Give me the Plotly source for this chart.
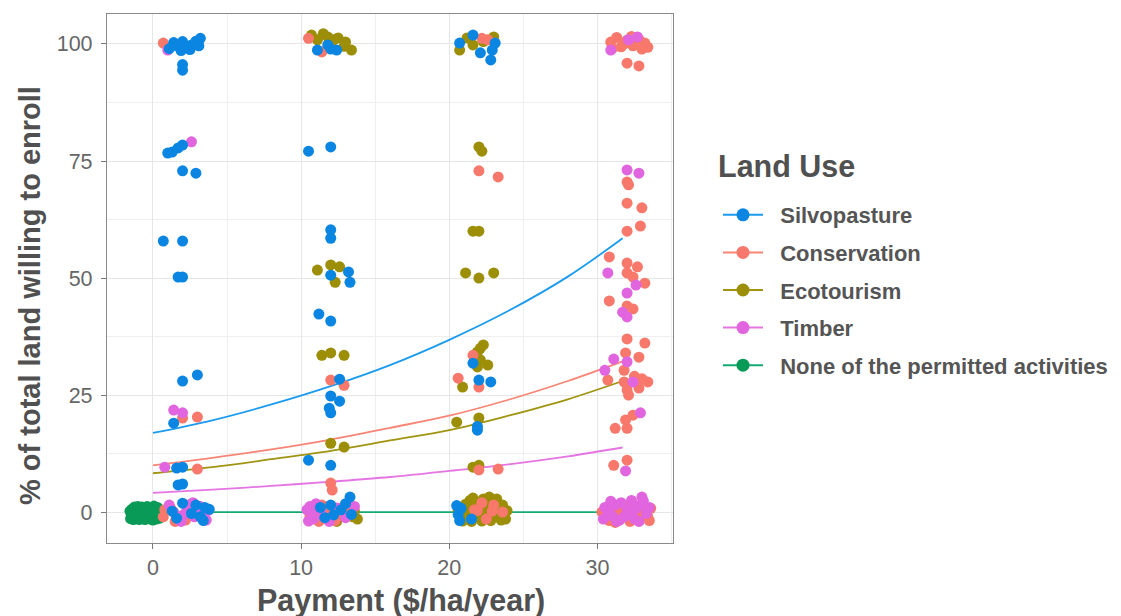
import plotly.graph_objects as go

# ---------------- data ----------------
land_uses = ["Silvopasture", "Conservation", "Ecotourism", "Timber", "None of the permitted activities"]
colors = ["#0A86E2", "#F8786B", "#9C8E06", "#E065DE", "#0A9A57"]
line_colors = ["#1A9BEE", "#F88575", "#A09410", "#E575E2", "#14AA72"]

# jittered payment positions and % enrolled for each land use
silvo_x = [1.1, 1.4, 1.7, 2.0, 2.3, 2.6, 2.9, 3.2, 3.1, 1.9, 2.5, 2.0, 2.0,
           1.0, 1.3, 1.7, 2.0, 2.0, 2.9, 0.7, 2.0, 1.7, 2.0, 2.0, 3.0, 1.4,
           1.6, 2.0, 1.7, 2.0, 2.0, 3.2, 3.5, 2.6, 3.4, 1.3, 2.9, 1.6, 3.8,
           11.1, 11.8, 12.4, 12.0, 10.5, 12.0, 12.0, 12.0, 12.0, 13.2, 13.3,
           11.2, 12.0, 12.6, 12.0, 12.6, 11.9, 12.0, 10.5, 12.0, 13.3,
           12.0, 12.7, 13.4, 11.6, 13.0, 12.2, 11.3,
           20.7, 21.6, 22.1, 22.8, 23.1, 22.9, 21.6, 22.0, 22.8, 21.9, 21.9,
           20.6, 20.8, 21.5, 20.5, 20.7]
silvo_y = [99.0, 100.3, 99.5, 100.5, 99.2, 99.8, 100.6, 101.2, 99.6, 98.6, 98.8, 94.4, 95.6,
           76.7, 76.9, 77.8, 78.4, 72.9, 72.4, 57.9, 57.9, 50.2, 50.2, 28.0, 29.3, 19.0,
           9.4, 9.6, 5.8, 6.0, 1.9, -1.0, 1.0, -0.3, -1.8, 0.2, 1.5, -1.3, 0.6,
           98.7, 99.8, 98.7, 98.9, 77.1, 78.0, 60.3, 58.5, 50.6, 51.3, 49.1,
           42.3, 40.8, 28.4, 24.8, 23.7, 22.2, 21.2, 11.1, 10.0, 3.2,
           1.5, 0.5, -0.5, -1.2, 1.8, -0.6, 1.0,
           100.2, 101.9, 98.1, 96.6, 100.2, 98.7, 31.8, 28.2, 27.8, 17.5, 18.3,
           -0.5, 0.8, -1.5, 1.4, -1.8]

cons_x = [0.7, 2.0, 3.0, 3.0, 0.7, 0.8, 2.2, 1.5, 2.9, 1.2, 3.3,
          10.5, 11.4, 12.0, 12.9, 12.0, 12.1, 10.6, 11.2, 12.3, 12.8, 11.8,
          11.4, 12.5, 13.3, 10.9,
          22.6, 22.2, 22.0, 23.3, 21.6, 20.6, 22.0, 22.0, 23.3, 21.7, 22.5, 23.0, 22.2,
          22.9, 21.9, 23.6,
          30.9, 31.3, 31.6, 32.0, 32.4, 32.8, 33.2, 33.4, 31.0, 32.3, 31.8, 33.0,
          32.0, 32.8, 32.0, 32.1, 32.0, 33.0, 32.0, 32.9,
          30.8, 32.0, 32.7, 32.0, 32.4, 33.2, 30.8, 32.4, 32.0,
          32.0, 33.2, 31.9, 32.8, 30.7, 31.8, 33.4, 32.0, 32.8, 32.1, 31.8, 33.0, 32.5,
          32.4, 31.9, 31.2, 32.0, 31.1, 32.0,
          30.3, 30.8, 31.5, 32.2, 32.7, 33.4, 33.6, 31.9, 31.2,
          30.6, 31.4, 32.1, 32.9, 33.5, 31.8, 33.2]
cons_y = [100.2, 20.1, 20.3, 9.2, -1.0, 0.5, -1.7, -2.0, 0.2, 0.8, -0.2,
          101.2, 98.3, 28.2, 27.1, 6.2, 4.7, -0.8, -2.0, -1.8, 1.0, 0.3,
          1.5, -0.3, 0.4, -0.5,
          100.9, 101.2, 72.9, 71.6, 33.5, 28.6, 26.7, 9.0, 9.2, 0.5, -1.5, 1.5, 2.0,
          0.2, 0.3, 0.0,
          100.4, 101.4, 99.4, 100.8, 99.6, 101.0, 100.2, 99.3, 99.0, 101.6, 100.0, 98.9,
          95.9, 95.3, 70.5, 69.9, 66.0, 65.0, 60.0, 61.1,
          54.5, 53.2, 52.4, 51.1, 50.2, 48.9, 45.1, 43.4, 44.0,
          37.0, 36.1, 34.0, 33.1, 28.2, 30.3, 27.8, 26.1, 26.5, 25.0, 27.8, 28.5, 29.0,
          20.7, 19.7, 17.9, 17.9, 10.0, 11.1,
          0.0, -1.8, 1.0, -2.0, 0.5, -1.0, 0.8, -0.5, -2.2,
          -0.5, 0.0, 1.6, -0.8, -1.8, 1.3, 0.3]

eco_x = [10.7, 11.8, 12.5, 13.0, 13.4, 12.2, 11.1, 11.5, 12.9,
         11.1, 12.0, 12.6, 12.3, 11.4, 12.0, 12.9, 12.0, 12.9,
         12.1, 12.7, 13.6, 13.2, 11.5, 13.8, 12.4, 13.1, 11.9, 13.5,
         21.2, 21.6, 23.0, 20.7, 22.3, 22.0, 22.2, 21.6, 22.0,
         21.1, 22.0, 23.0, 22.3, 22.1, 21.9, 21.9, 22.6, 22.1,
         20.9, 20.5, 22.0, 21.6, 22.0,
         20.8, 21.2, 21.5, 21.8, 22.0, 22.3, 22.5, 22.8, 23.0, 23.3, 23.6, 23.8,
         22.7, 21.4, 20.6, 23.9, 22.1, 21.0,
         21.1, 21.7, 22.2, 22.9, 23.5, 20.9, 23.2, 22.4, 21.6]
eco_y = [101.9, 101.5, 101.3, 100.4, 98.7, 100.9, 100.9, 102.2, 99.5,
         51.7, 52.8, 52.4, 49.1, 33.5, 34.0, 33.5, 14.7, 13.9,
         -1.5, -0.8, 0.2, 1.5, 0.0, -1.5, -2.0, 0.0, 1.2, -1.0,
         101.3, 99.8, 101.5, 98.7, 100.5, 78.0, 77.1, 60.0, 60.0,
         51.1, 50.0, 51.1, 35.7, 35.0, 34.2, 31.0, 31.4, 32.5,
         26.7, 19.2, 20.1, 9.6, 10.0,
         -1.5, 0.5, -2.0, 1.8, -0.8, 2.8, 0.2, -1.8, 1.0, -0.5, 1.5, -1.5,
         3.2, 2.5, 0.3, 0.3, 1.3, -0.2,
         1.7, -0.5, -1.9, 2.2, -1.7, -1.9, 2.8, 1.0, 3.0]

timber_x = [1.0, 2.6, 1.4, 2.0, 0.8,
            1.6, 2.3, 2.8, 3.2, 3.6, 1.1, 1.9, 3.7, 2.5, 1.4, 2.1, 3.0, 2.7,
            10.4, 10.8, 10.6, 11.3, 11.9, 13.6, 10.7, 11.0, 11.5, 12.4, 13.0, 10.5,
            30.9, 32.1, 32.7, 32.0, 32.8,
            30.7, 32.6, 32.0, 31.7, 32.0, 31.1, 32.0, 30.5, 32.4, 32.9, 31.9, 33.0,
            30.5, 31.0, 31.6, 32.0, 32.5, 32.9, 33.3, 31.3, 32.3, 30.4,
            30.7, 31.2, 31.8, 32.3, 32.8, 33.5, 31.5, 30.9, 32.6, 33.1]
timber_y = [98.7, 79.1, 21.8, 21.2, 9.6,
            -1.0, 0.4, -1.0, 1.2, -1.7, 1.5, -2.0, 0.3, 1.6, 0.0, -0.5, 0.0, 2.0,
            0.5, -1.5, 1.2, 0.3, -2.0, 1.2, 0.0, 1.8, -1.0, 0.9, -1.2, -1.9,
            98.7, 100.9, 101.5, 73.1, 72.4,
            51.1, 48.5, 46.8, 42.7, 41.7, 32.7, 32.1, 30.3, 27.8, 21.2, 8.8, 3.2,
            1.0, -0.8, 2.0, 0.5, -1.5, 1.5, -0.3, -2.0, 2.5, -1.5,
            0.2, 1.5, -1.0, -0.2, -2.0, 1.0, -1.7, 2.3, 0.8, 2.4]

none_x = [-1.51, -1.47, -1.43, -1.24, -1.16, -1.09, -0.93, -0.85, -0.78, -0.62, -0.54, -0.39,
          -0.31, -0.16, -0.08, 0.0, 0.15, 0.23, 0.31, 0.38, 0.5, -1.32, -0.70, -1.01, -0.23,
          0.07, 0.46, -1.55, -0.47, 0.23, -1.36, -1.05, -0.74, -0.43, -0.12, 0.19,
          0.42, -1.24, -0.54, 0.0, -0.85, -0.08]
none_y = [-1.4, -0.4, 0.6, 1.1, -0.9, 0.1, -1.6, 0.8, -0.5, 0.4, -1.3, 1.2,
          -0.2, -1.5, 0.7, -0.8, 0.3, -1.5, 1.0, -0.5, 0.5, -1.6, -1.0, 1.2, 0.3,
          1.3, -1.3, 0.2, -0.7, -0.1, 0.0, -0.6, 1.1, 0.1, -0.6, 0.8,
          0.0, -1.2, -1.6, -1.7, 0.0, 0.2]

# fitted curves at these payments
fit_x = [0, 4, 8, 12, 16, 20, 24, 28, 31.7]
fit_silvo = [16.9, 19.6, 23.0, 26.9, 31.4, 36.8, 43.0, 50.3, 58.5]
fit_cons = [10.0, 11.6, 13.4, 15.5, 18.0, 20.6, 24.0, 28.0, 32.2]
fit_eco = [8.3, 9.6, 11.3, 13.1, 15.3, 17.5, 20.6, 24.1, 28.0]
fit_timber = [4.1, 4.8, 5.6, 6.5, 7.5, 8.8, 10.2, 11.9, 13.8]
fit_none = [0, 0, 0, 0, 0, 0, 0, 0, 0]

x_ticks = [0, 10, 20, 30]
y_ticks = [0, 25, 50, 75, 100]

# ---------------- figure ----------------
fig = go.Figure()
fits = [fit_silvo, fit_cons, fit_eco, fit_timber, fit_none]
pts = [(silvo_x, silvo_y), (cons_x, cons_y), (eco_x, eco_y), (timber_x, timber_y), (none_x, none_y)]

for i in range(5):
    fig.add_trace(go.Scatter(x=fit_x, y=fits[i], mode="lines", line=dict(color=line_colors[i], width=1.8, shape="spline"),
                             showlegend=False, hoverinfo="skip"))

draw_order = [4, 2, 1, 3, 0]
for i in draw_order:
    fig.add_trace(go.Scatter(x=pts[i][0], y=pts[i][1], mode="markers",
                             marker=dict(color=colors[i], size=11, line=dict(width=0)),
                             name=land_uses[i], showlegend=False))

NB = "\u00a0\u00a0"
for i in range(5):
    fig.add_trace(go.Scatter(x=[None], y=[None], mode="lines+markers", name=NB + land_uses[i],
                             legendgroup=land_uses[i],
                             line=dict(color=line_colors[i], width=2),
                             marker=dict(color=colors[i], size=13)))

axis_common = dict(
    showline=True, mirror=True, linecolor="#8A8A8A", linewidth=1.3,
    ticks="outside", ticklen=5, tickcolor="#777777", tickwidth=1.2,
    showgrid=True, gridcolor="#E6E6E6", gridwidth=1.4, zeroline=False,
    automargin=False,
    tickfont=dict(family="Liberation Sans", size=21.5, color="#666666"),
)

fig.update_xaxes(**axis_common, range=[-3.1, 35.1], tickvals=x_ticks, ticklabelstandoff=0,
                 minor=dict(dtick=5, tick0=0, showgrid=True, gridcolor="#EFEFEF", gridwidth=1, ticks=""))
fig.update_yaxes(**axis_common, range=[-6.6, 106.4], tickvals=y_ticks, ticklabelstandoff=4,
                 minor=dict(dtick=12.5, tick0=0, showgrid=True, gridcolor="#EFEFEF", gridwidth=1, ticks=""))

title_font = dict(family="Liberation Sans", color="#505050", weight="bold")
# axis titles placed as annotations at their positions in the reference
fig.add_annotation(text="Payment ($/ha/year)", xref="paper", yref="paper", showarrow=False,
                   x=(401 - 107) / 566, y=(543 - 600) / 529, xanchor="center", yanchor="middle",
                   font=dict(size=30.5, **title_font))
fig.add_annotation(text="% of total land willing to enroll", xref="paper", yref="paper", showarrow=False,
                   x=(30 - 107) / 566, y=(543 - 296) / 529, xanchor="center", yanchor="middle", textangle=-90,
                   font=dict(size=29, **title_font))
fig.add_annotation(text="Land Use", xref="paper", yref="paper", showarrow=False,
                   x=(716 - 107) / 566, y=(543 - 166) / 529, xanchor="left", yanchor="middle",
                   font=dict(size=30.5, **title_font))

fig.update_layout(
    width=1121, height=616,
    margin=dict(l=107, r=448, t=14, b=73),
    plot_bgcolor="white", paper_bgcolor="white",
    legend=dict(
        xref="container", yref="container", x=718 / 1121, y=1 - 194 / 616,
        xanchor="left", yanchor="top",
        font=dict(family="Liberation Sans", size=22, color="#555555", weight="bold"),
        tracegroupgap=6, itemwidth=40, bgcolor="rgba(0,0,0,0)",
    ),
)

fig.write_html("out.html")
